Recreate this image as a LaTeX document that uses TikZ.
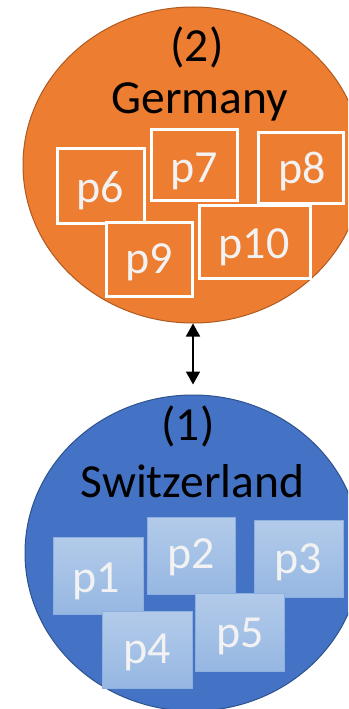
\documentclass[tikz,border=0pt]{standalone}
\usepackage{fontspec}
\setmainfont{Carlito}
\usetikzlibrary{shapes.geometric,arrows.meta}
\definecolor{orangefill}{HTML}{ED7D31}
\definecolor{orangeline}{HTML}{AE5A21}
\definecolor{bluefill}{HTML}{4472C4}
\definecolor{blueline}{HTML}{2F528F}
\definecolor{tiletop}{HTML}{B3CBEA}
\definecolor{tilebot}{HTML}{96B7E2}
\definecolor{tileline}{HTML}{8DB0DF}
\definecolor{labelwhite}{HTML}{F2F2F2}
\begin{document}
\begin{tikzpicture}[x=1pt,y=-1pt,
  region/.style={ellipse, inner sep=0pt, line width=1pt},
  title/.style={anchor=base, inner sep=0pt, text=black, font=\fontsize{47.5}{50}\selectfont},
  plabel/.style={anchor=base, inner sep=0pt, text=labelwhite, font=\fontsize{46}{50}\selectfont},
  otile/.style={rectangle, inner sep=0pt, draw=white, line width=3pt, fill=orangefill},
  btile/.style={rectangle, inner sep=0pt, draw=tileline, line width=0.8pt,
    top color=tiletop, bottom color=tilebot},
  link/.style={line width=1.8pt,
    {Triangle[width=14pt,length=13pt]}-{Triangle[width=14pt,length=13pt]}}]
\useasboundingbox (0,0) rectangle (348,709);
\clip (0,0) rectangle (348,709);

% Germany region
\node[region, fill=orangefill, draw=orangeline, minimum width=340pt, minimum height=316pt] (ger) at (193,165) {};
\node[title] (ger2) at (197,62) {(2)};
\node[title] (gername) at (200,113) {Germany};

\node[otile, minimum width=87pt, minimum height=75pt] (b6) at (101,186) {};
\node[otile, minimum width=86pt, minimum height=71pt] (b7) at (194.5,165) {};
\node[otile, minimum width=85pt, minimum height=71pt] (b8) at (301,168) {};
\node[plabel] (t6) at (100,202) {p6};
\node[plabel] (t7) at (194,182) {p7};
\node[plabel] (t8) at (302,183) {p8};
\node[otile, minimum width=86pt, minimum height=74pt] (b9) at (149.5,259.5) {};
\node[otile, minimum width=111pt, minimum height=73pt] (b10) at (255,242) {};
\node[plabel] (t9) at (149,273) {p9};
\node[plabel] (t10) at (254,258) {p10};

% Switzerland region
\node[region, fill=bluefill, draw=blueline, minimum width=336pt, minimum height=316pt] (swi) at (193,553) {};
\node[title] (swi1) at (188,440) {(1)};
\node[title] (swiname) at (192.5,497) {Switzerland};

\node[btile, minimum width=90pt, minimum height=77pt] (b1) at (98,575.5) {};
\node[btile, minimum width=88pt, minimum height=77pt] (b2) at (191,555.5) {};
\node[btile, minimum width=89pt, minimum height=77pt] (b3) at (298.5,558.5) {};
\node[plabel] (t1) at (96,592) {p1};
\node[plabel] (t2) at (191,568) {p2};
\node[plabel] (t3) at (298,573) {p3};
\node[btile, minimum width=90pt, minimum height=77pt] (b4) at (147,649.5) {};
\node[btile, minimum width=89pt, minimum height=78pt] (b5) at (239.5,632) {};
\node[plabel] (t4) at (147,663) {p4};
\node[plabel] (t5) at (240,647) {p5};

% link between the two regions
\draw[link, shorten >=10pt] (ger.south) -- (swi.north);
\end{tikzpicture}
\end{document}
